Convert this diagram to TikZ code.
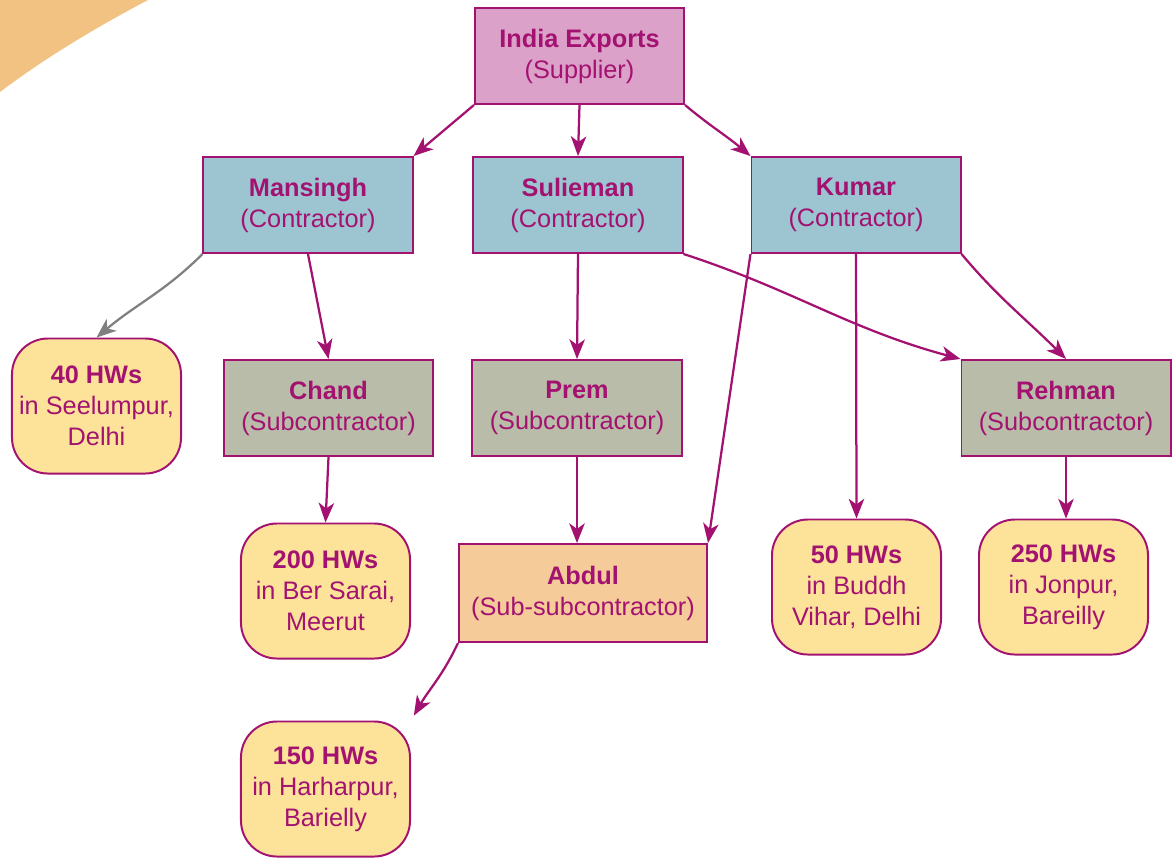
\documentclass[tikz,border=0pt]{standalone}
\usepackage{fontspec}
\setmainfont{Liberation Sans}
\usetikzlibrary{positioning,arrows.meta}
\definecolor{linec}{RGB}{163,18,112}
\definecolor{pinkc}{RGB}{219,161,201}
\definecolor{bluec}{RGB}{156,197,209}
\definecolor{greyc}{RGB}{185,188,168}
\definecolor{peachc}{RGB}{245,203,153}
\definecolor{yellowc}{RGB}{252,227,153}
\definecolor{cornerc}{RGB}{242,194,131}

\begin{document}
\begin{tikzpicture}[
x=0.025cm,y=-0.025cm,
box/.style={
  draw=linec,
  line width=1.4pt,
  text=linec,
  align=center,
  inner sep=2pt,
  minimum width=5.225cm,
  minimum height=2.4cm,
  font=\fontsize{18}{22}\selectfont
},
supplier/.style={box,fill=pinkc},
contractor/.style={box,fill=bluec},
subcon/.style={box,fill=greyc},
subsub/.style={box,fill=peachc,minimum width=6.2cm,minimum height=2.45cm},
workers/.style={box,fill=yellowc,rounded corners=0.9cm,minimum width=4.225cm,minimum height=3.375cm},
link/.style={draw=linec,line width=1.6pt,-{Stealth[length=14pt,width=11pt,inset=4pt]}}
]
\useasboundingbox (0,0) rectangle (1175,858);
\fill[cornerc] (0,0) -- (148,0) .. controls (95,28) and (45,58) .. (0,92) -- cycle;

% supplier and contractors
\node[supplier] (india) at (579.5,56) {\textbf{India Exports}\\(Supplier)};
\node[contractor] (mansingh) at (308,205) {\textbf{Mansingh}\\(Contractor)};
\node[contractor] (sulieman) at (578,205) {\textbf{Sulieman}\\(Contractor)};
\node[contractor] (kumar) at (856,205) {\textbf{Kumar}\\(Contractor)};

% subcontractors
\node[subcon] (chand) at (328.5,408) {\textbf{Chand}\\(Subcontractor)};
\node[subcon] (prem) at (577,408) {\textbf{Prem}\\(Subcontractor)};
\node[subcon] (rehman) at (1066,408) {\textbf{Rehman}\\(Subcontractor)};
\node[subsub] (abdul) at (583,593) {\textbf{Abdul}\\(Sub-subcontractor)};

% home workers
\node[workers] (hw40) at (96.5,406) {\textbf{40 HWs}\\in Seelumpur,\\Delhi};
\node[workers] (hw200) at (325.5,591) {\textbf{200 HWs}\\in Ber Sarai,\\Meerut};
\node[workers] (hw150) at (325.5,789) {\textbf{150 HWs}\\in Harharpur,\\Barielly};
\node[workers] (hw50) at (856.5,587) {\textbf{50 HWs}\\in Buddh\\Vihar, Delhi};
\node[workers] (hw250) at (1063.5,587) {\textbf{250 HWs}\\in Jonpur,\\Bareilly};

\draw[link] (india.south west) -- (mansingh.north east);
\draw[link] (india.south) -- (sulieman.north);
\draw[link] (india.south east) to[out=-40,in=140] (kumar.north west);

\draw[link,draw=gray] (mansingh.south west) to[out=-135,in=40] (hw40.north);
\draw[link] (mansingh.south) -- (chand.north);
\draw[link] (sulieman.south) -- (prem.north);
\draw[link] (sulieman.south east) to[out=-18,in=165] (rehman.north west);
\draw[link] (kumar.south west) -- (abdul.north east);
\draw[link] (kumar.south) -- (hw50.north);
\draw[link] (kumar.south east) to[out=-50,in=135] (rehman.north);

\draw[link] (chand.south) -- (hw200.north);
\draw[link] (prem.south) -- (prem.south |- abdul.north);
\draw[link] (rehman.south) -- (rehman.south |- hw250.north);
\draw[link,shorten >=4pt] (abdul.south west) to[out=-115,in=60] (hw150.north east);
\end{tikzpicture}
\end{document}
